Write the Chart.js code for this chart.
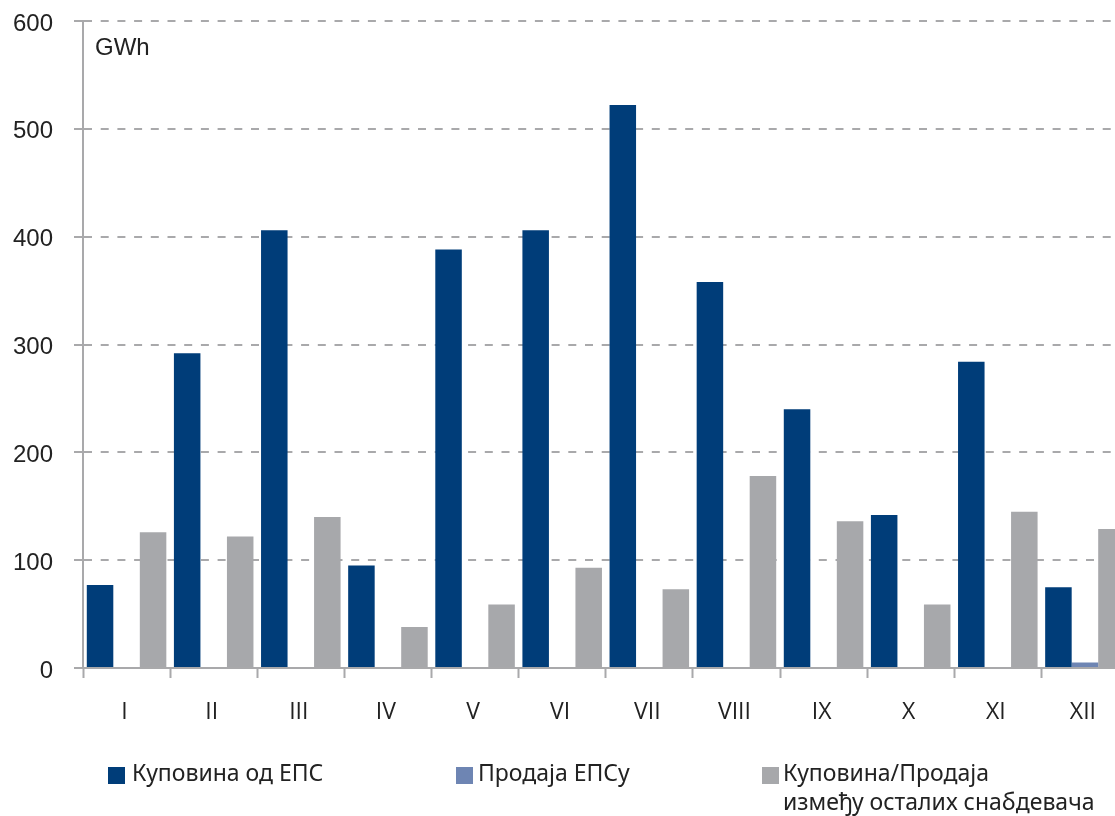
<!DOCTYPE html>
<html lang="sr">
<head>
<meta charset="utf-8">
<title>Куповина и продаја електричне енергије по месецима</title>
<script src="https://cdn.jsdelivr.net/npm/chart.js@4.4.1/dist/chart.umd.min.js"></script>
<style>
  html, body { margin: 0; padding: 0; background: #ffffff; overflow: hidden; }
  #wrap { position: relative; width: 1115px; height: 816px; overflow: hidden; }
  #chart { position: absolute; left: 0; top: 0; }
  .unit { position: absolute; left: 95px; top: 35px; font: 24px "Liberation Sans", Arial, sans-serif; line-height: 24px; color: #222; }
  .leg-box { position: absolute; width: 17px; height: 17px; }
  .leg-text { position: absolute; top: 758px; font: 23px "Noto Sans", "DejaVu Sans", sans-serif; line-height: 29px; color: #222; white-space: nowrap; }
</style>
</head>
<body>
<div id="wrap">
  <canvas id="chart" width="1140" height="816"></canvas>
  <div class="unit">GWh</div>
  <div id="legend"></div>
</div>
<script>
// Months (Roman numerals)
const months = ['I', 'II', 'III', 'IV', 'V', 'VI', 'VII', 'VIII', 'IX', 'X', 'XI', 'XII'];

// Monthly energy, GWh
const purchaseFromEPS = [77, 292, 406, 95, 388, 406, 522, 358, 240, 142, 284, 75];
const saleToEPS = [null, null, null, null, null, null, null, null, null, null, null, 5];
const betweenSuppliers = [126, 122, 140, 38, 59, 93, 73, 178, 136, 59, 145, 129];

// Series names
const seriesNames = ['Куповина од ЕПС', 'Продаја ЕПСу', ['Куповина/Продаја', 'између осталих снабдевача']];

// Value axis ticks
const yTickValues = [0, 100, 200, 300, 400, 500, 600];

const colors = ['#003d79', '#6e85b3', '#a7a8ab'];
const gridGray = '#a9a9ab';
const labelFont = "'Open Sans', 'Liberation Sans', sans-serif";
const tickFont = "'Liberation Sans', Arial, sans-serif";

const ctx = document.getElementById('chart').getContext('2d');
new Chart(ctx, {
  type: 'bar',
  data: {
    labels: months,
    datasets: [
      { label: seriesNames[0], data: purchaseFromEPS, backgroundColor: colors[0] },
      { label: seriesNames[1], data: saleToEPS, backgroundColor: colors[1] },
      { label: seriesNames[2].join(' '), data: betweenSuppliers, backgroundColor: colors[2] }
    ]
  },
  options: {
    responsive: false,
    animation: false,
    devicePixelRatio: 1,
    layout: { padding: { left: 0, right: 11.5, top: 21, bottom: 0 } },
    datasets: {
      bar: { categoryPercentage: 0.913, barPercentage: 1.0, borderWidth: 0 }
    },
    plugins: {
      legend: { display: false },
      tooltip: { enabled: false },
      title: { display: false }
    },
    scales: {
      x: {
        offset: true,
        grid: {
          offset: true,
          drawOnChartArea: false,
          drawTicks: true,
          tickLength: 10,
          tickWidth: 2,
          tickColor: gridGray
        },
        border: { display: true, color: gridGray, width: 2 },
        ticks: {
          color: '#222',
          font: { family: labelFont, size: 23 },
          padding: 21,
          labelOffset: -2,
          maxRotation: 0,
          autoSkip: false
        },
        afterFit(scale) { scale.height = 148; }
      },
      y: {
        min: 0,
        max: 600,
        afterBuildTicks(scale) { scale.ticks = yTickValues.map(v => ({ value: v })); },
        grid: {
          color: gridGray,
          lineWidth: 2,
          drawTicks: true,
          tickLength: 9,
          tickWidth: 2,
          tickColor: gridGray,
          tickBorderDash: []
        },
        border: { display: true, color: gridGray, width: 2, dash: [8, 8.7] },
        ticks: {
          color: '#222',
          font: { family: tickFont, size: 24 },
          padding: 21,
          labelOffset: 3
        },
        afterFit(scale) {
          // fixed axis width; the plot top is set by the layout padding alone
          scale.width = 83;
          scale.paddingTop = 0;
          scale.paddingBottom = 0;
        }
      }
    }
  }
});

// Legend below the plot
const legend = document.getElementById('legend');
const legendItems = [
  { box: 108, text: 132, top: 767 },
  { box: 456, text: 478, top: 767 },
  { box: 762, text: 783, top: 767 }
];
legendItems.forEach((pos, i) => {
  const box = document.createElement('div');
  box.className = 'leg-box';
  box.style.left = pos.box + 'px';
  box.style.top = pos.top + 'px';
  box.style.background = colors[i];
  legend.appendChild(box);
  const txt = document.createElement('div');
  txt.className = 'leg-text';
  txt.style.left = pos.text + 'px';
  const name = seriesNames[i];
  txt.innerHTML = Array.isArray(name) ? name.join('<br>') : name;
  legend.appendChild(txt);
});
</script>
</body>
</html>
